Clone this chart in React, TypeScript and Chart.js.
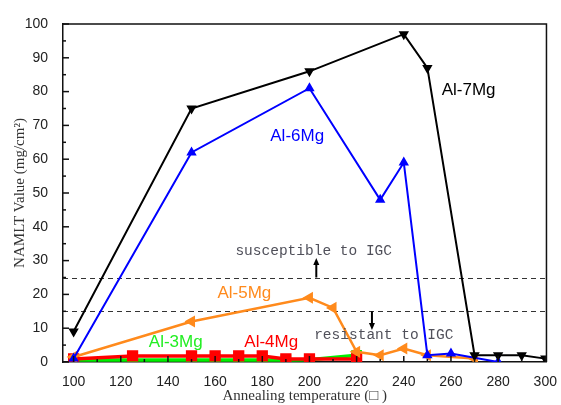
import { useEffect, useRef } from "react";
import { Chart, registerables } from "chart.js";

Chart.register(...registerables);

// ---- data ----
const xTickValues = [100, 120, 140, 160, 180, 200, 220, 240, 260, 280, 300];
const yTickValues = [0, 10, 20, 30, 40, 50, 60, 70, 80, 90, 100];

const al7Temp = [100, 150, 200, 240, 250, 270, 280, 290, 300];
const al7Value = [9, 75, 86, 97, 87, 2, 2, 2, 1];

const al6Temp = [100, 150, 200, 230, 240, 250, 260, 280];
const al6Value = [1, 62, 81, 48, 59, 2, 2.5, 0];

const al5Temp = [100, 150, 200, 210, 220, 230, 240, 250, 270];
const al5Value = [1.5, 12, 19, 16, 3, 2, 4, 2, 1];

const al4Temp = [100, 125, 150, 160, 170, 180, 190, 200, 220];
const al4Value = [0.9, 1.8, 1.8, 1.8, 1.8, 1.8, 0.9, 0.9, 0.9];

const al3Temp = [100, 125, 150, 160, 170, 180, 190, 200, 220];
const al3Value = [0.6, 0.6, 0.6, 0.6, 0.6, 0.6, 0.6, 0.7, 2];

const seriesNames = ["Al-7Mg", "Al-6Mg", "Al-5Mg", "Al-4Mg", "Al-3Mg"];
const thresholdValues = [25, 15];
const zoneTexts = ["susceptible to IGC", "resistant to IGC"];

const xTitle = "Annealing temperature (\u25A1 )";
const yTitle = "NAMLT Value (mg/cm\u00B2)";

const toPoints = (xs: number[], ys: number[]) => xs.map((x, i) => ({ x, y: ys[i] }));

const COLORS = {
  black: "#000000",
  blue: "#0000ff",
  orange: "#ff8a1c",
  red: "#ff0000",
  green: "#00ee00",
};

const annotationPlugin = {
  id: "annotations",
  beforeDatasetsDraw(chart: any) {
    const { ctx, chartArea } = chart;
    const ys = chart.scales.y;
    ctx.save();
    ctx.strokeStyle = "#333";
    ctx.lineWidth = 1;
    ctx.setLineDash([5, 4]);
    thresholdValues.forEach((v) => {
      const py = Math.round(ys.getPixelForValue(v)) + 0.5;
      ctx.beginPath();
      ctx.moveTo(chartArea.left, py);
      ctx.lineTo(chartArea.right, py);
      ctx.stroke();
    });
    ctx.restore();
  },
  afterDatasetsDraw(chart: any) {
    const { ctx, chartArea } = chart;
    const xs = chart.scales.x;
    const ys = chart.scales.y;
    const X = (v: number) => xs.getPixelForValue(v);
    const Y = (v: number) => ys.getPixelForValue(v);
    ctx.save();

    // frame top / right
    ctx.strokeStyle = "#111";
    ctx.lineWidth = 1.5;
    ctx.beginPath();
    ctx.moveTo(chartArea.left, chartArea.top);
    ctx.lineTo(chartArea.right, chartArea.top);
    ctx.lineTo(chartArea.right, chartArea.bottom);
    ctx.stroke();

    // inward ticks
    ctx.lineWidth = 1.5;
    for (let v = 100; v <= 300; v += 10) {
      const px = X(v);
      const len = v % 20 === 0 ? 6 : 3;
      ctx.beginPath();
      ctx.moveTo(px, chartArea.bottom);
      ctx.lineTo(px, chartArea.bottom - len);
      ctx.stroke();
    }
    for (let v = 0; v <= 100; v += 5) {
      const py = Y(v);
      const len = v % 10 === 0 ? 6 : 3;
      ctx.beginPath();
      ctx.moveTo(chartArea.left, py);
      ctx.lineTo(chartArea.left + len, py);
      ctx.stroke();
    }

    // series labels
    ctx.font = "17px 'Liberation Sans', Arial, sans-serif";
    ctx.textAlign = "center";
    ctx.textBaseline = "middle";
    const labelSpec: [string, string, number, number][] = [
      [seriesNames[0], COLORS.black, 267.5, 80.5],
      [seriesNames[1], COLORS.blue, 194.8, 66.9],
      [seriesNames[2], COLORS.orange, 172.4, 20.4],
      [seriesNames[3], COLORS.red, 183.8, 5.9],
      [seriesNames[4], "#22ee22", 143.3, 5.9],
    ];
    labelSpec.forEach(([t, c, x, y]) => {
      ctx.fillStyle = c;
      ctx.fillText(t, X(x), Y(y));
    });

    // zone texts
    ctx.font = "14.5px 'Liberation Mono', monospace";
    ctx.fillStyle = "#50505a";
    ctx.textAlign = "left";
    ctx.fillText(zoneTexts[0], X(168.6), Y(32.8));
    ctx.fillText(zoneTexts[1], X(202), Y(8));

    // arrows
    const arrow = (xv: number, y0: number, y1: number) => {
      const px = X(xv);
      const p0 = Y(y0);
      const p1 = Y(y1);
      const dir = p1 < p0 ? -1 : 1;
      ctx.strokeStyle = "#000";
      ctx.fillStyle = "#000";
      ctx.lineWidth = 2;
      ctx.beginPath();
      ctx.moveTo(px, p0);
      ctx.lineTo(px, p1 - dir * 5);
      ctx.stroke();
      ctx.beginPath();
      ctx.moveTo(px, p1);
      ctx.lineTo(px - 3, p1 - dir * 7);
      ctx.lineTo(px + 3, p1 - dir * 7);
      ctx.closePath();
      ctx.fill();
    };
    arrow(202.9, 25, 30.8);
    arrow(226.5, 15, 9.5);

    ctx.restore();
  },
};

export default function App() {
  const canvasRef = useRef<HTMLCanvasElement | null>(null);

  useEffect(() => {
    const canvas = canvasRef.current;
    if (!canvas) return;
    const tickFont = { family: "'Liberation Sans', Arial, sans-serif", size: 14 };
    const titleFont = { family: "'Liberation Serif', 'Times New Roman', serif", size: 15 };

    const chart = new Chart(canvas, {
      type: "line",
      data: {
        datasets: [
          {
            label: seriesNames[0],
            data: toPoints(al7Temp, al7Value),
            borderColor: COLORS.black,
            backgroundColor: COLORS.black,
            borderWidth: 2,
            pointStyle: "triangle",
            rotation: 180,
            pointRadius: 4,
          },
          {
            label: seriesNames[1],
            data: toPoints(al6Temp, al6Value),
            borderColor: COLORS.blue,
            backgroundColor: COLORS.blue,
            borderWidth: 2,
            pointStyle: "triangle",
            pointRadius: 4,
          },
          {
            label: seriesNames[2],
            data: toPoints(al5Temp, al5Value),
            borderColor: COLORS.orange,
            backgroundColor: COLORS.orange,
            borderWidth: 2.5,
            pointStyle: "triangle",
            rotation: -90,
            pointRadius: 4.5,
          },
          {
            label: seriesNames[3],
            data: toPoints(al4Temp, al4Value),
            borderColor: COLORS.red,
            backgroundColor: COLORS.red,
            borderWidth: 3.5,
            pointStyle: "rect",
            pointRadius: 5.5,
          },
          {
            label: seriesNames[4],
            data: toPoints(al3Temp, al3Value),
            borderColor: COLORS.green,
            backgroundColor: COLORS.green,
            borderWidth: 3.5,
            pointStyle: "rect",
            pointRadius: 5,
          },
        ],
      },
      options: {
        responsive: false,
        animation: false,
        devicePixelRatio: 1,
        layout: { padding: { top: 24, right: 13, left: 0, bottom: 0 } },
        plugins: { legend: { display: false }, tooltip: { enabled: false } },
        elements: { line: { tension: 0 }, point: { borderWidth: 0 } },
        scales: {
          x: {
            type: "linear",
            min: 95.5,
            max: 300.5,
            afterBuildTicks: (s: any) => {
              s.ticks = xTickValues.map((v) => ({ value: v }));
            },
            afterFit: (s: any) => {
              s.height = 43;
            },
            grid: { display: false },
            border: { display: true, color: "#111", width: 1.5 },
            ticks: { font: tickFont, color: "#222", padding: 4, autoSkip: false, maxRotation: 0 },
            title: { display: true, text: xTitle, font: titleFont, color: "#333", padding: { top: 0, bottom: 0 } },
          },
          y: {
            type: "linear",
            min: 0,
            max: 100,
            afterBuildTicks: (s: any) => {
              s.ticks = yTickValues.map((v) => ({ value: v }));
            },
            afterFit: (s: any) => {
              s.width = 63;
            },
            grid: { display: false },
            border: { display: true, color: "#111", width: 1.5 },
            ticks: { font: tickFont, color: "#222", padding: 7, autoSkip: false },
            title: { display: true, text: yTitle, font: titleFont, color: "#333", padding: { top: 11, bottom: 0 } },
          },
        },
      },
      plugins: [annotationPlugin],
    } as any);

    return () => chart.destroy();
  }, []);

  return (
    <div style={{ position: "absolute", left: 0, top: 0, width: 561, height: 405 }}>
      <canvas ref={canvasRef} width={561} height={405} style={{ display: "block" }} />
    </div>
  );
}
